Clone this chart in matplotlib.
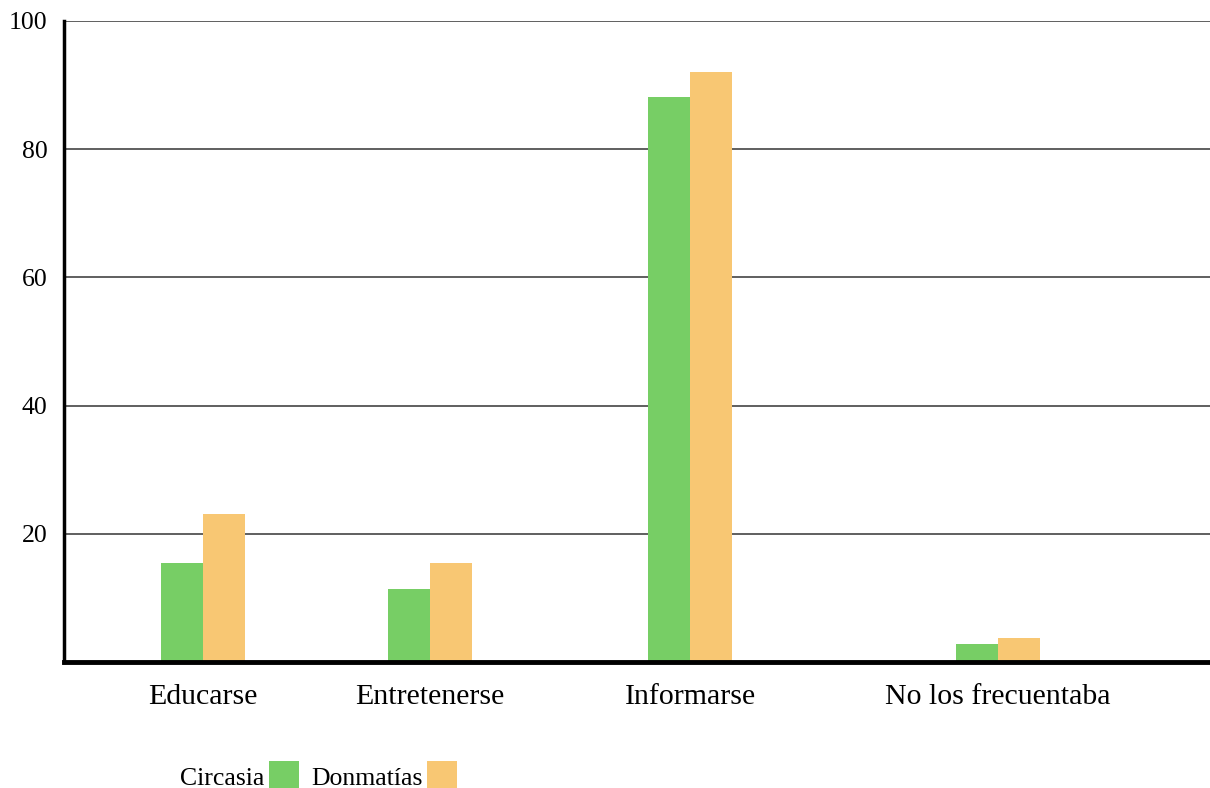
import matplotlib
matplotlib.use('Agg')
import matplotlib.pyplot as plt
from matplotlib.patches import Patch

matplotlib.rc('font', family='Liberation Serif', size=21)

categories = ['Educarse', 'Entretenerse', 'Informarse', 'No los frecuentaba']
circasia = [15.4, 11.4, 88.1, 2.8]
donmatias = [23.1, 15.4, 92.0, 3.8]

# group centres along the x axis (axis spans 0..11.46)
xpos = [1.39, 3.66, 6.26, 9.34]
width = 0.42

green = '#77CE65'
orange = '#F8C773'

fig = plt.figure(figsize=(12.1, 7.88), dpi=100)
ax = fig.add_axes([0.0529, 0.16, 0.9471, 0.8134])

ax.bar([p - width / 2 for p in xpos], circasia, width, color=green, zorder=3)
ax.bar([p + width / 2 for p in xpos], donmatias, width, color=orange, zorder=3)

ax.set_xlim(0, 11.46)
ax.set_ylim(0, 100)
ax.set_yticks([20, 40, 60, 80, 100])
ax.set_xticks(xpos)
ax.set_xticklabels(categories)
ax.tick_params(axis='both', length=0)
ax.tick_params(axis='y', labelsize=18.5, pad=12)
ax.tick_params(axis='x', labelsize=21.5, pad=16)

ax.yaxis.grid(True, color='#444444', linewidth=1.2, zorder=1)
ax.set_axisbelow(True)

for s in ['top', 'right']:
    ax.spines[s].set_visible(False)
ax.spines['left'].set_linewidth(2.5)
ax.spines['bottom'].set_linewidth(3.5)
ax.spines['left'].set_zorder(4)
ax.spines['bottom'].set_zorder(4)

handles = [Patch(facecolor=green), Patch(facecolor=orange)]
fig.legend(handles, ['Circasia', 'Donmatías'], loc='lower left',
           bbox_to_anchor=(0.149, -0.004), ncol=2, markerfirst=False,
           frameon=False, fontsize=18.5, handlelength=1.17, handleheight=1.4,
           handletextpad=0.15, columnspacing=0.5, borderpad=0,
           borderaxespad=0)

fig.savefig('out.png', dpi=100)
